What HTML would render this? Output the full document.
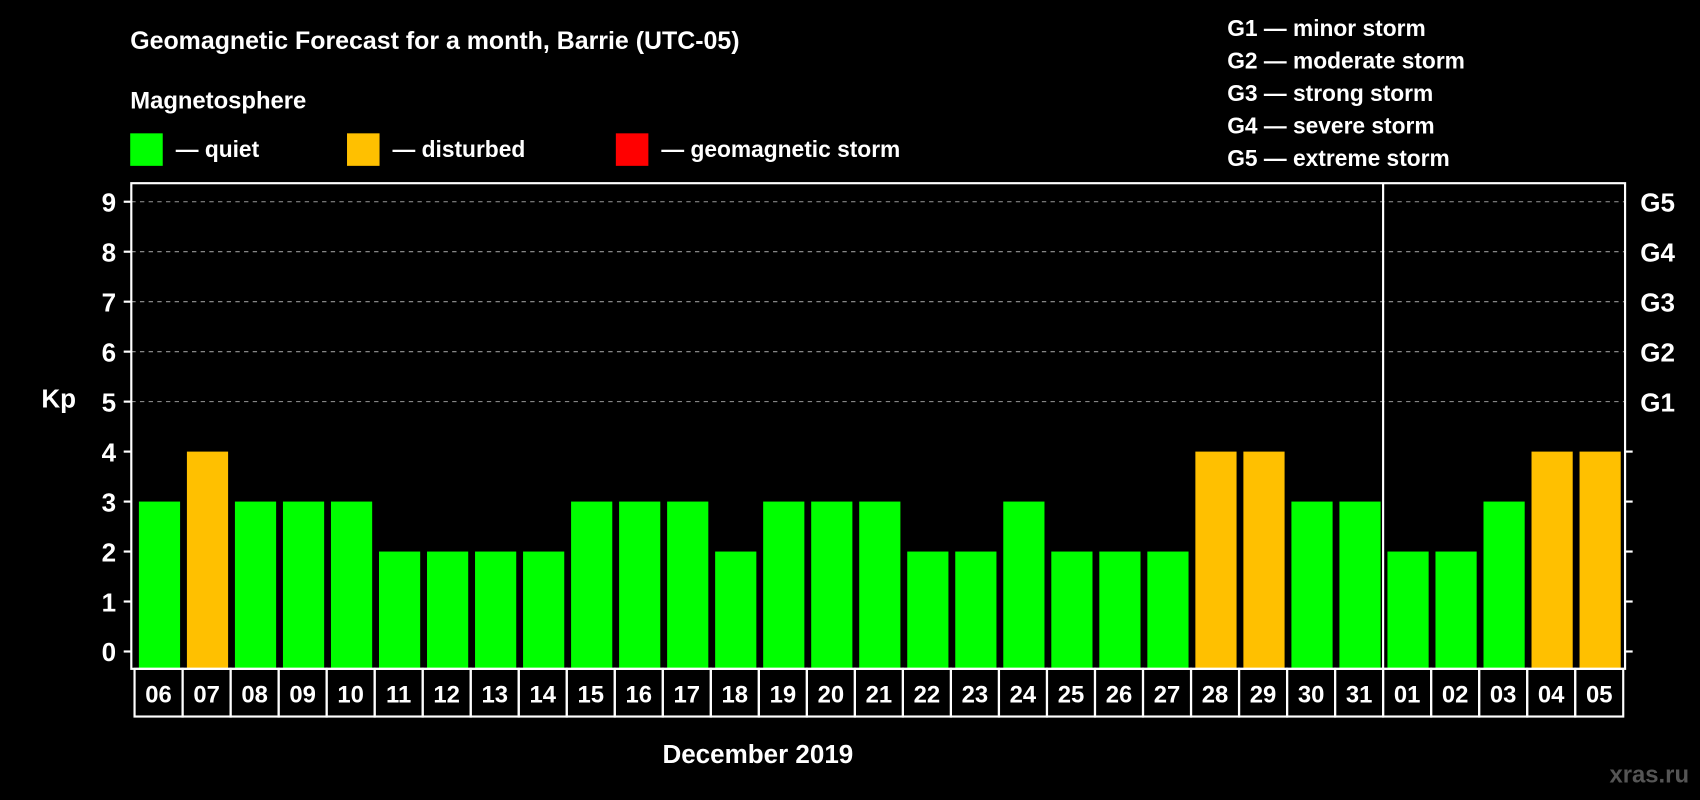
<!DOCTYPE html>
<html><head><meta charset="utf-8"><style>
html,body{margin:0;padding:0;background:#000;}
svg{display:block;font-family:"Liberation Sans",Arial,sans-serif;font-weight:bold;}
</style></head><body>
<svg id="chart" width="1700" height="800" viewBox="0 0 1568 738" xmlns="http://www.w3.org/2000/svg">
<rect x="0" y="0" width="1568" height="738" fill="#000"/>
<text x="120" y="45" fill="#fff" font-size="23">Geomagnetic Forecast for a month, Barrie (UTC-05)</text>
<text x="120" y="100" fill="#fff" font-size="22">Magnetosphere</text>
<rect x="120" y="123" width="30" height="30" fill="#00ff00"/>
<text x="162" y="145" fill="#fff" font-size="21">— quiet</text>
<rect x="320" y="123" width="30" height="30" fill="#ffc000"/>
<text x="362" y="145" fill="#fff" font-size="21">— disturbed</text>
<rect x="568" y="123" width="30" height="30" fill="#ff0000"/>
<text x="610" y="145" fill="#fff" font-size="21">— geomagnetic storm</text>
<g fill="#fff" font-size="21">
<text x="1132" y="33">G1 — minor storm</text>
<text x="1132" y="63">G2 — moderate storm</text>
<text x="1132" y="93">G3 — strong storm</text>
<text x="1132" y="123">G4 — severe storm</text>
<text x="1132" y="153">G5 — extreme storm</text>
</g>
<text x="38" y="376" fill="#fff" font-size="24">Kp</text>
<text x="699" y="704" fill="#fff" font-size="24" text-anchor="middle">December 2019</text>
<text x="1558" y="722" fill="#555" font-size="22" text-anchor="end">xras.ru</text>
<g id="grid"></g><g id="bars"></g><g id="axes"></g><g id="dates"></g>
</svg>
<script>
const days = ["06","07","08","09","10","11","12","13","14","15","16","17","18","19","20","21","22","23","24","25","26","27","28","29","30","31","01","02","03","04","05"];
const kp = [3,4,3,3,3,2,2,2,2,3,3,3,2,3,3,3,2,2,3,2,2,2,4,4,3,3,2,2,3,4,4];
const yTicks = [0,1,2,3,4,5,6,7,8,9];
const gLabels = ["G1","G2","G3","G4","G5"];
const NS="http://www.w3.org/2000/svg";
const L=121,R=1499,T=169,B=617,X0=124,SLOT=44.3,BW=38;
function y(v){return 601-46.1*v;}
function x(i){return X0+SLOT*i;}
function mk(tag,attrs,parent){const e=document.createElementNS(NS,tag);for(const k in attrs)e.setAttribute(k,attrs[k]);document.getElementById(parent).appendChild(e);return e;}
yTicks.forEach(v=>{
  if(v>=5){const g=mk('line',{x1:L,x2:R,y1:y(v),y2:y(v),stroke:'#999','stroke-dasharray':'4 4','stroke-width':1},'grid');
    
    }
  const t=mk('line',{x1:L-7,x2:L,y1:y(v),y2:y(v),stroke:'#fff','stroke-width':2},'axes');
  
  
  const lb=mk('text',{x:L-14,y:y(v)+9,fill:'#fff','font-size':24,'text-anchor':'end'},'axes');lb.textContent=v;
  
  
  if(v<5){const rt=mk('line',{x1:R,x2:R+7,y1:y(v),y2:y(v),stroke:'#fff','stroke-width':2},'axes');
    
    }
  else{const gl=mk('text',{x:R+14,y:y(v)+9,fill:'#fff','font-size':24},'axes');gl.textContent=gLabels[v-5];
    
    }
});
kp.forEach((v,i)=>{
  const c=v>=5?'#ff0000':(v>=4?'#ffc000':'#00ff00');
  const b=mk('rect',{x:x(i)+4,y:y(v),width:BW,height:B-y(v),fill:c},'bars');
  
  
  const cell=mk('rect',{x:x(i),y:B,width:SLOT,height:44,fill:'none',stroke:'#fff','stroke-width':2},'dates');
  
  
  const t=mk('text',{x:x(i)+SLOT/2,y:B+31,fill:'#fff','font-size':22,'text-anchor':'middle'},'dates');t.textContent=days[i];
  
  
});
const fr=mk('rect',{x:L,y:T,width:R-L,height:B-T,fill:'none',stroke:'#fff','stroke-width':2},'axes');


const di=days.indexOf("01");
const dv=mk('line',{x1:x(di),x2:x(di),y1:T,y2:B,stroke:'#fff','stroke-width':2},'axes');


</script>
</body></html>
